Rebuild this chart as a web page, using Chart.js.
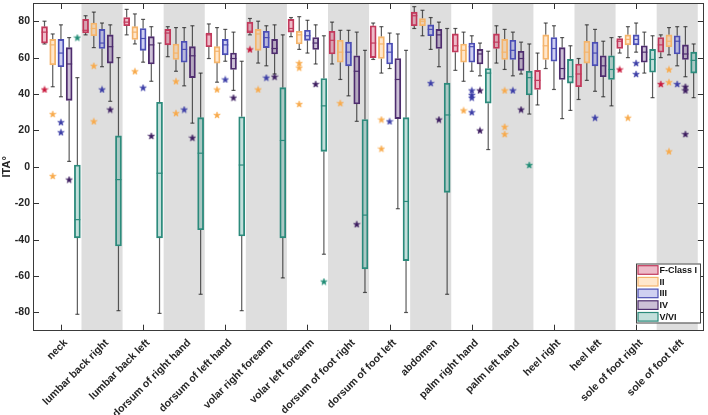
<!DOCTYPE html>
<html><head><meta charset="utf-8">
<script src="https://cdn.jsdelivr.net/npm/chart.js@4/dist/chart.umd.min.js"></script>
<style>html,body{margin:0;padding:0;background:#fff}</style>
</head><body>
<div style="width:708px;height:415px"><canvas id="c" width="708" height="415"></canvas></div>
<script>
// ---------------- DATA ----------------
const categories = ['neck','lumbar back right','lumbar back left','dorsum of right hand','dorsum of left hand',
  'volar right forearm','volar left forearm','dorsum of foot right','dorsum of foot left','abdomen',
  'palm right hand','palm left hand','heel right','heel left','sole of foot right','sole of foot left'];
const yTickValues = [-80,-60,-40,-20,0,20,40,60,80];
const classNames = ['F-Class I','II','III','IV','V/VI'];
const shadedCategories = [1,3,5,7,9,11,13,15];

// box statistics per category: [lower whisker, Q1, median, Q3, upper whisker]
const classI = [[67.5,68,74,77,80],[72.5,73.5,75,81,83],[72.5,77.5,79.5,82,86.5],[60.5,67,73.5,75.5,77],
  [59.5,66,72.5,73.5,78.5],[72.5,73.5,74.5,79.5,81.5],[71.5,74,76,81,82],[56.5,62,69.5,74.5,79.5],
  [59,60,68,77.5,79],[76,77.5,83,85,88],[53,63,66.5,73,76],[57,65,68.5,73,77.5],
  [34,42.5,47.5,53,62.5],[37,44,51,56.5,59.5],[62.5,65,69,70.5,71.5],[60,63,67,71,72.5]];
const classII = [[44,56,67,70,73],[65.5,72,76,79,85],[67.5,70,74,77,84],[52.5,59,62.5,67.5,76.5],
  [46.5,57,63.5,66,76.5],[57,64,73,75.5,80],[64.5,67.5,72.5,74.5,82.5],[48,57.5,63,69.5,75],
  [51.5,59.5,67.5,71.5,77],[72,77.5,80,81.5,86],[47,57.5,64,67.5,74],[53.5,59,63,70,75.5],
  [54,59,66.5,72.5,79],[47.5,57,63,69,78],[60,67,70,72.5,77],[61.5,66,69,72.5,76.5]];
const classIII = [[38.5,55,62.5,70,78],[55,65,68,75.5,79],[57.5,64,70.5,76,81],[44.5,57.5,64.5,69,76.5],
  [58,61.5,67,70,75.5],[55.5,65.5,71,74.5,77.5],[62.5,69.5,72,75,80.5],[39,55.5,63,68.5,75],
  [54,56.5,63,68,73.5],[64.5,72,75.5,78,82],[52.5,57.5,66,68,72],[50,59,64,69.5,74],
  [42.5,58,65,71,77.5],[41.5,55.5,62.5,68.5,75.5],[63,67,70,72.5,79],[55.5,62,69,72,77]];
const classIV = [[3,36.5,56.5,65.5,71],[36,57,66,72.5,78],[47,56.5,67,71.5,77],[24,49,61,66,77.5],
  [42,53.5,59.5,62.5,74],[51,62,65,70,78],[56.5,64.5,68,71,78],[25,34.5,52.5,61,74],
  [-23,26.5,48,59.5,73],[55,65,72.5,75.5,79.5],[50,56.5,62,64.5,68],[51,53,59.5,63.5,68.5],
  [26.5,48,54,65.5,71],[38.5,49.5,55.5,61,69],[51.5,57.5,63,66.5,74],[49.5,59,62,67,77]];
const classV = [[-81,-39,-29,1,49],[-79,-43.5,-7,17,60],[-80.5,-39,-3.5,35.5,68],[-70,-34.5,7.5,27,51.5],
  [-79,-38,1,27.5,58],[-61,-39,14.5,43.5,72.5],[-48,8.5,33.5,48.5,72],[-69,-56,-26.5,26,64],
  [-80,-51.5,-19,27,64],[-70,-14,28.5,46,76],[9.5,35,51.5,54,63.5],[29,39.5,49,52.5,67.5],
  [31,46,49.5,59,66.5],[33.5,48,53.5,61,71],[38,52,59,64.5,72],[38,51.5,58.5,63,67.5]];

// outliers: [category index, value]
const outliersI = [[0,42.5],[5,64.5],[14,53.5],[15,45.5]];
const outliersII = [[0,29],[0,-5],[1,55.5],[1,25],[2,52.5],[3,47],[3,29.5],[4,42.5],[4,28.5],[5,42.5],
  [6,57],[6,54.5],[6,34.5],[7,35],[8,26],[8,10],[10,31],[11,42],[11,22],[11,18],[14,27],[15,53.5],[15,46.5],[15,8.5]];
const outliersIII = [[0,24.5],[0,19],[1,42.5],[2,43.5],[3,31.5],[4,48],[5,49],[8,25],[9,46],
  [10,42],[10,39.5],[10,38],[10,30],[11,42],[13,27],[14,57],[14,51],[15,45.5]];
const outliersIV = [[0,-7],[1,31.5],[2,17],[3,16],[4,38],[5,49.5],[6,45.5],[7,-31.5],[9,26],
  [10,42],[10,20],[11,31.5],[15,44],[15,42],[15,18]];
const outliersV = [[0,71],[6,-63],[11,1]];

// ---------------- RENDERING ----------------
const allStats = [classI, classII, classIII, classIV, classV];
const allOutliers = [outliersI, outliersII, outliersIII, outliersIV, outliersV];
const classOffsets = [-0.4,-0.2,0,0.2,0.4];
const edgeColors = ['#c23a5c','#f3b46c','#4a4db3','#4e2d6e','#2b8a7b'];
const fillColors = ['rgba(200,50,90,0.33)','rgba(255,185,110,0.35)','rgba(95,100,210,0.3)','rgba(85,45,120,0.3)','rgba(55,150,135,0.3)'];
const starColors = ['#c8163a','#f8aa4c','#3b3da6','#3b1b5e','#1f8c74'];
const FONT = "'Liberation Sans', Arial, sans-serif";

function makeStar(color) {
  const c = document.createElement('canvas'); c.width = 8; c.height = 8;
  const g = c.getContext('2d');
  g.beginPath();
  for (let i = 0; i < 10; i++) {
    const r = i % 2 === 0 ? 3.5 : 1.45;
    const a = -Math.PI / 2 + i * Math.PI / 5;
    g.lineTo(4 + r * Math.cos(a), 4.3 + r * Math.sin(a));
  }
  g.closePath(); g.fillStyle = color; g.fill();
  g.strokeStyle = color; g.lineWidth = 0.5; g.stroke();
  return c;
}

const datasets = [];
allStats.forEach((stats, k) => {
  datasets.push({
    type: 'bar', label: classNames[k], order: 2,
    data: stats.map((s, i) => ({x: i + classOffsets[k], y: [s[1], s[3]]})),
    backgroundColor: fillColors[k], borderColor: edgeColors[k], borderWidth: 1.2,
    borderSkipped: false, barThickness: 6, grouped: false
  });
});
allOutliers.forEach((outs, k) => {
  datasets.push({
    type: 'scatter', label: classNames[k] + ' outliers', order: 0,
    data: outs.map(o => ({x: o[0] + classOffsets[k], y: o[1]})),
    pointStyle: makeStar(starColors[k]), pointRadius: 4, showLine: false
  });
});

function line(ctx, x1, y1, x2, y2) { ctx.beginPath(); ctx.moveTo(x1, y1); ctx.lineTo(x2, y2); ctx.stroke(); }

const boxPlugin = {
  id: 'boxExtras',
  beforeDatasetsDraw(chart) {
    const {ctx, chartArea: a, scales: {x, y}} = chart;
    ctx.save();
    // inward ticks
    ctx.strokeStyle = '#333'; ctx.lineWidth = 1;
    categories.forEach((c, i) => {
      const px = Math.round(x.getPixelForValue(i)) + 0.5;
      line(ctx, px, a.bottom, px, a.bottom - 6);
      line(ctx, px, a.top, px, a.top + 6);
    });
    yTickValues.forEach(v => {
      const py = Math.round(y.getPixelForValue(v)) + 0.5;
      line(ctx, a.left, py, a.left + 6, py);
      line(ctx, a.right, py, a.right - 6, py);
    });
    // shaded bands
    ctx.fillStyle = '#dedede';
    shadedCategories.forEach(i => {
      const l = x.getPixelForValue(i - 0.5), r = x.getPixelForValue(i + 0.5);
      ctx.fillRect(l, a.top, r - l, a.bottom - a.top);
    });
    // frame
    ctx.strokeStyle = '#3a3a3a'; ctx.lineWidth = 1;
    ctx.strokeRect(Math.round(a.left) + 0.5, Math.round(a.top) + 0.5, Math.round(a.right - a.left) - 1, Math.round(a.bottom - a.top) - 1);
    // whiskers
    ctx.strokeStyle = 'rgba(30,30,30,0.72)'; ctx.lineWidth = 1.2;
    allStats.forEach((stats, k) => stats.forEach((s, i) => {
      const px = x.getPixelForValue(i + classOffsets[k]);
      const lo = y.getPixelForValue(s[0]), q1 = y.getPixelForValue(s[1]);
      const q3 = y.getPixelForValue(s[3]), hi = y.getPixelForValue(s[4]);
      line(ctx, px, hi, px, q3); line(ctx, px, q1, px, lo);
      line(ctx, px - 2, hi, px + 2, hi); line(ctx, px - 2, lo, px + 2, lo);
    }));
    ctx.restore();
  },
  afterDatasetsDraw(chart) {
    const {ctx, scales: {x, y}} = chart;
    ctx.save();
    ctx.lineWidth = 1.2;
    allStats.forEach((stats, k) => stats.forEach((s, i) => {
      const px = x.getPixelForValue(i + classOffsets[k]);
      const m = y.getPixelForValue(s[2]);
      ctx.strokeStyle = edgeColors[k];
      line(ctx, px - 3, m, px + 3, m);
    }));
    ctx.restore();
  },
  afterDraw(chart) {
    const {ctx} = chart;
    ctx.save();
    const bx = 636, by = 263.5, bw = 64, bh = 59;
    ctx.fillStyle = '#fff'; ctx.fillRect(bx, by, bw, bh);
    ctx.strokeStyle = '#444'; ctx.lineWidth = 1; ctx.strokeRect(bx + 0.5, by + 0.5, bw, bh);
    ctx.font = 'bold 9px ' + FONT; ctx.textBaseline = 'middle'; ctx.textAlign = 'left';
    classNames.forEach((n, k) => {
      const cy = 270 + k * 11.7;
      ctx.fillStyle = fillColors[k]; ctx.fillRect(638, cy - 4.3, 20, 8.6);
      ctx.strokeStyle = edgeColors[k]; ctx.lineWidth = 1.2; ctx.strokeRect(638, cy - 4.3, 20, 8.6);
      ctx.fillStyle = '#111'; ctx.fillText(n, 659.5, cy + 0.5);
    });
    ctx.restore();
  }
};

new Chart(document.getElementById('c'), {
  type: 'bar',
  data: {datasets},
  options: {
    responsive: false, animation: false, events: [],
    layout: {padding: {top: 3, right: 4.5, left: 0, bottom: 0}, autoPadding: false},
    plugins: {legend: {display: false}, tooltip: {enabled: false}},
    scales: {
      x: {
        type: 'linear', min: -0.68, max: 15.64, offset: false,
        grid: {display: false, drawTicks: false}, border: {display: false},
        afterBuildTicks: s => { s.ticks = categories.map((c, i) => ({value: i})); },
        ticks: {autoSkip: false, maxRotation: 45, minRotation: 45, padding: 6, labelOffset: 5, color: '#262626',
          font: {family: FONT, size: 10.5, weight: 'bold'}, callback: v => categories[v]},
        afterFit: s => { s.height = 84.3; s.paddingLeft = 0; s.paddingRight = 0; }
      },
      y: {
        min: -90, max: 90,
        grid: {display: false, drawTicks: false}, border: {display: false},
        afterBuildTicks: s => { s.ticks = yTickValues.map(v => ({value: v})); },
        ticks: {padding: 3, color: '#262626', font: {family: FONT, size: 10.5, weight: 'bold'}},
        title: {display: true, text: 'ITA°', color: '#262626', padding: {top: 0, bottom: 0},
          font: {family: FONT, size: 11, weight: 'bold'}},
        afterFit: s => { s.width = 33; s.paddingTop = 0; s.paddingBottom = 0; }
      }
    }
  },
  plugins: [boxPlugin]
});
</script>
</body></html>
